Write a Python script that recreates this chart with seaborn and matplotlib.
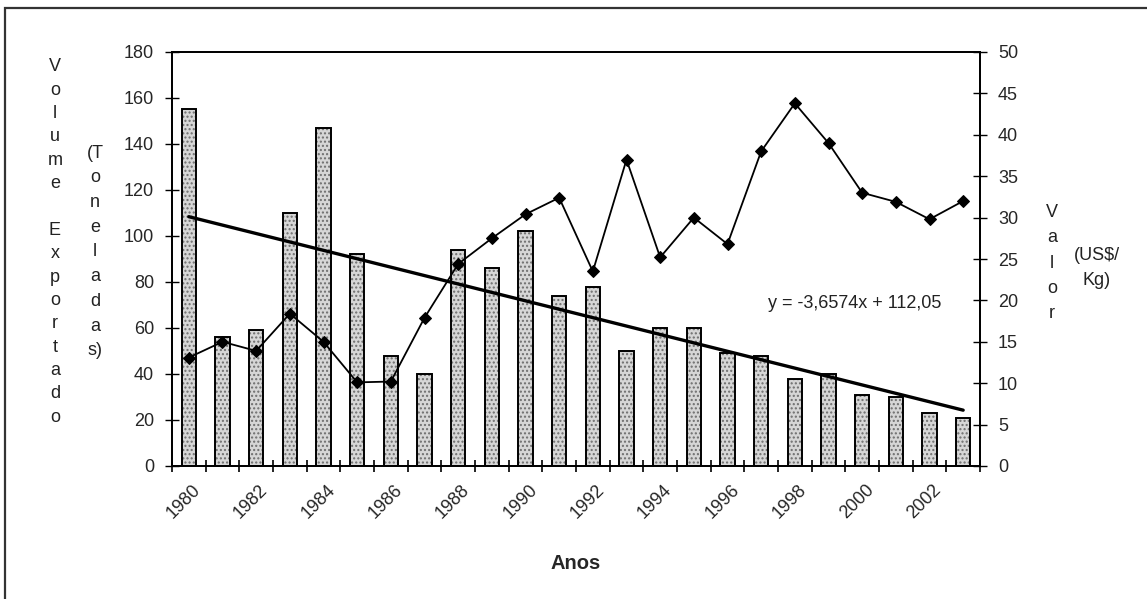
import numpy as np
import pandas as pd
import matplotlib
matplotlib.use("Agg")
import matplotlib.pyplot as plt
import matplotlib.transforms as mtransforms
from matplotlib.patches import Rectangle
import seaborn as sns

# ---- data ----
years = list(range(1980, 2004))
volume = [155, 56, 59, 110, 147, 92, 48, 40, 94, 86, 102, 74,
          78, 50, 60, 60, 49, 48, 38, 40, 31, 30, 23, 21]
valor = [13.1, 15.0, 13.9, 18.4, 15.0, 10.1, 10.2, 17.9, 24.4, 27.5, 30.4, 32.4,
         23.5, 37.0, 25.2, 30.0, 26.8, 38.0, 43.8, 39.0, 33.0, 31.9, 29.8, 32.0]
trend_slope = -3.6574
trend_intercept = 112.05
tick_years = years[::2]
left_ticks = list(range(0, 181, 20))
right_ticks = list(range(0, 51, 5))

sns.set_theme(style="ticks")
plt.rcParams["font.family"] = ["Liberation Sans", "DejaVu Sans"]

W, H = 1147, 599
df = pd.DataFrame({"Ano": [str(y) for y in years], "Volume": volume, "Valor": valor})
df["pos"] = np.arange(len(df))

fig = plt.figure(figsize=(W / 100, H / 100), dpi=100)
fig.patch.set_facecolor("white")
L, R, T, B = 172, 980, 52, 466
ax = fig.add_axes([L / W, 1 - B / H, (R - L) / W, (B - T) / H])

sns.barplot(data=df, x="Ano", y="Volume", ax=ax, color="#d6d6d6",
            width=0.42, saturation=1, errorbar=None)
bars = list(ax.patches)
for p in bars:
    p.set_hatch("....")
    p.set_edgecolor("#6e6e6e")
    p.set_linewidth(0)
    ax.add_patch(Rectangle(p.get_xy(), p.get_width(), p.get_height(),
                           fill=False, edgecolor="black", linewidth=1.4, zorder=3))

# trend line
trend_x = df["pos"].to_numpy()
trend_y = trend_intercept + trend_slope * (trend_x + 1)
sns.lineplot(x=trend_x, y=trend_y, ax=ax, color="black", linewidth=2.4, zorder=4)

ax2 = ax.twinx()
sns.lineplot(x=df["pos"], y=df["Valor"], ax=ax2, color="black", linewidth=1.3,
             marker="D", markersize=6.5, markeredgecolor="black", zorder=5)

ax.set_xlim(-0.5, len(years) - 0.5)
ax.set_ylim(0, 180)
ax2.set_ylim(0, 50)
ax.set_yticks(left_ticks)
ax.set_yticklabels([str(v) for v in left_ticks])
ax2.set_yticks(right_ticks)
ax2.set_yticklabels([str(v) for v in right_ticks])

ax.set_xticks(df["pos"].to_numpy()[::2])
ax.set_xticklabels([str(y) for y in tick_years], rotation=45, ha="right",
                   rotation_mode="anchor", fontsize=13)
ax.set_xticks(np.arange(-0.5, len(years), 1), minor=True)
ax.tick_params(axis="x", which="major", length=0, pad=11)
ax.tick_params(axis="x", which="minor", direction="inout", length=9, width=1.2, color="black")
offset = mtransforms.ScaledTranslation(3 / 100, 0, fig.dpi_scale_trans)
for lab in ax.get_xticklabels():
    lab.set_transform(lab.get_transform() + offset)

ax.tick_params(axis="y", direction="inout", length=10, width=1.0, labelsize=13,
               color="black", pad=8)
ax2.tick_params(axis="y", direction="inout", length=10, width=1.0, labelsize=13,
                color="black", pad=8)
ax.set_ylabel("")
ax2.set_ylabel("")
ax.set_xlabel("Anos", fontsize=14.5, fontweight="bold")
ax.xaxis.set_label_coords(0.5, (B - 554) / (B - T))

for a in (ax, ax2):
    for s in a.spines.values():
        s.set_visible(True)
        s.set_color("black")
        s.set_linewidth(1.3)

# stacked axis titles
def stacked(x, y, text, ls):
    fig.text(x / W, 1 - y / H, text, ha="center", va="center",
             multialignment="center", fontsize=13, linespacing=ls, color="#222222")

stacked(55, 242, "\n".join(list("Volume Exportado")), 1.49)
stacked(95, 252, "\n".join(["(T", "o", "n", "e", "l", "a", "d", "a", "s)"]), 1.59)
stacked(1052, 263, "\n".join(list("Valor")), 1.63)
stacked(1097, 268, "(US$/\nKg)", 1.59)

eq = "y = {:.4f}x + {:.2f}".format(trend_slope, trend_intercept).replace(".", ",")
fig.text(768 / W, 1 - 303 / H, eq, ha="left", va="center", fontsize=13, color="#222222")

# outer frame
fig.patches.append(Rectangle((5 / W, -0.1), 2, 1 - 8 / H + 0.1, transform=fig.transFigure,
                             fill=False, edgecolor="#333333", linewidth=1.6))

fig.savefig("out.png", dpi=100, facecolor="white")
